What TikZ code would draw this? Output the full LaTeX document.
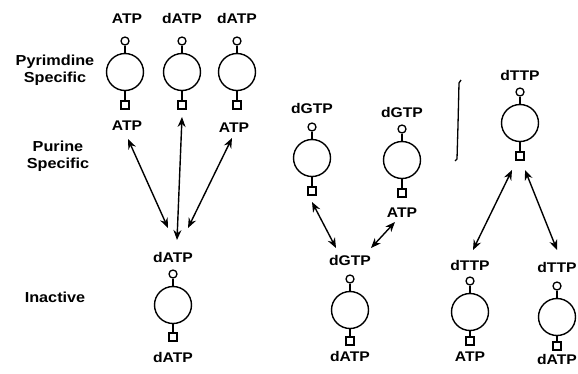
\documentclass[tikz,border=0pt]{standalone}
\usepackage{fontspec}
\setmainfont{Liberation Sans}[FakeStretch=1.12]
\usetikzlibrary{arrows.meta,calc}
\newcommand\enz[4]{%
  \node[big] (#1) at (#2,#3) {};
  \node[small] (#1t) at ($(#1)+(0,-31)$) {};
  \node[sq] (#1s) at ($(#1)+(0,#4)$) {};
  \draw[link] (#1t) -- (#1);
  \draw[link] (#1) -- (#1s);
}
\begin{document}
\begin{tikzpicture}[x=1pt,y=-1pt,
  big/.style={circle,draw,line width=1.4pt,minimum size=37pt,inner sep=0pt},
  small/.style={circle,draw,line width=1.3pt,minimum size=8pt,inner sep=0pt},
  sq/.style={rectangle,draw,line width=1.3pt,minimum size=8pt,inner sep=0pt},
  link/.style={line width=1.3pt},
  lab/.style={font=\fontsize{14}{15}\selectfont\bfseries,inner sep=0pt,anchor=base},
  side/.style={font=\fontsize{14.5}{17}\selectfont\bfseries,align=center,inner sep=0pt},
  dbl/.style={line width=1.4pt,{Stealth[length=10pt,width=8pt]}-{Stealth[length=10pt,width=8pt]}}]
\useasboundingbox (0,0) rectangle (578,373);
% side labels
\node[side] (pyr) at (55,70) {Pyrimdine\\Specific};
\node[side] (pur) at (58,156) {Purine\\Specific};
\node[side] (ina) at (55,297) {Inactive};
% left group
\enz{L1}{125}{72}{33}
\enz{L2}{182}{72}{33}
\enz{L3}{237}{72}{33}
\enz{L4}{173}{305}{32}
\node[lab] (L1a) at (127,23) {ATP};
\node[lab] (L1b) at (127,130) {ATP};
\node[lab] (L2a) at (182,23) {dATP};
\node[lab] (L3a) at (237,23) {dATP};
\node[lab] (L3b) at (234,132) {ATP};
\node[lab] (L4a) at (173,262) {dATP};
\node[lab] (L4b) at (173,362) {dATP};
% middle group
\enz{M1}{312}{158}{33}
\enz{M2}{402}{160}{33}
\enz{M3}{350}{310}{31}
\node[lab] (M1a) at (312,113) {dGTP};
\node[lab] (M2a) at (402,117) {dGTP};
\node[lab] (M2b) at (402,217) {ATP};
\node[lab] (M3a) at (350,265) {dGTP};
\node[lab] (M3b) at (350,361) {dATP};
% right group
\enz{R1}{520}{123}{33}
\enz{R2}{470}{312}{29}
\enz{R3}{557}{317}{29}
\node[lab] (R1a) at (520,80) {dTTP};
\node[lab] (R2a) at (470,270) {dTTP};
\node[lab] (R2b) at (470,361) {ATP};
\node[lab] (R3a) at (557,272) {dTTP};
\node[lab] (R3b) at (557,364) {dATP};
% arrow end points
\coordinate (a1u) at (128,139); \coordinate (a1d) at (168,228);
\coordinate (a2u) at (182,117); \coordinate (a2d) at (177,240);
\coordinate (a3u) at (232,138); \coordinate (a3d) at (188,228);
\coordinate (b1u) at (312,202); \coordinate (b1d) at (336,248);
\coordinate (b2u) at (395,222); \coordinate (b2d) at (371,248);
\coordinate (c1u) at (512,170); \coordinate (c1d) at (473,250);
\coordinate (c2u) at (525,170); \coordinate (c2d) at (557,250);
\draw[dbl] (a1u) -- (a1d);
\draw[dbl] (a2u) -- (a2d);
\draw[dbl] (a3u) -- (a3d);
\draw[dbl] (b1u) -- (b1d);
\draw[dbl] (b2u) -- (b2d);
\draw[dbl] (c1u) -- (c1d);
\draw[dbl] (c2u) -- (c2d);
% bracket
\coordinate (k1) at (461,80); \coordinate (k2) at (459,83);
\coordinate (k3) at (458,125); \coordinate (k4) at (457,159);
\coordinate (k5) at (455,161);
\draw[line width=1.3pt] (k1) -- (k2) -- (k3) -- (k4) -- (k5);
\end{tikzpicture}
\end{document}
